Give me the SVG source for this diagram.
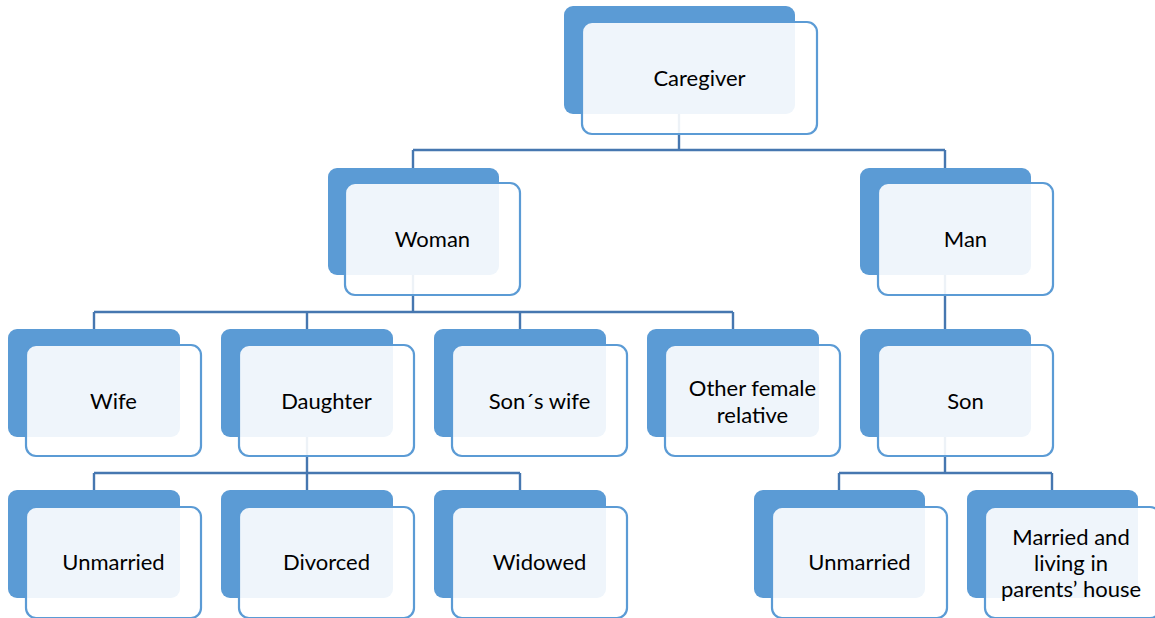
<svg xmlns="http://www.w3.org/2000/svg" width="1155" height="618" viewBox="0 0 1155 618">
<style>
.bk{fill:#5B9BD5}
.fr{fill:#ffffff;fill-opacity:0.9;stroke:#5B9BD5;stroke-width:2.2}
.t{font-family:Lato,"Liberation Sans",sans-serif;font-size:22px;fill:#000;text-anchor:middle;dominant-baseline:central}
.c{fill:none;stroke:#4677B0;stroke-width:2.4}
</style>
<rect width="1155" height="618" fill="#fff"/>
<g id="connectors">
<path class="c" d="M679 114V150M413 150H945M413 150V168M945 150V168"/>
<path class="c" d="M413 275V312M94 312H733M94 312V329M307 312V329M520 312V329M733 312V329"/>
<path class="c" d="M945 275V329"/>
<path class="c" d="M307 437V473M94 473H520M94 473V490M307 473V490M520 473V490"/>
<path class="c" d="M945 437V473M839 473H1052M839 473V490M1052 473V490"/>
</g>
<g id="caregiver"><rect class="bk" x="564" y="6" width="231" height="108" rx="9"/><rect class="fr" x="582" y="22" width="235" height="112" rx="10"/><text class="t" x="699.5" y="77.5">Caregiver</text></g>
<g id="woman"><rect class="bk" x="328" y="168" width="171" height="107" rx="9"/><rect class="fr" x="345" y="183" width="175" height="112" rx="10"/><text class="t" x="432.5" y="238.5">Woman</text></g>
<g id="man"><rect class="bk" x="860" y="168" width="171" height="107" rx="9"/><rect class="fr" x="878" y="183" width="175" height="112" rx="10"/><text class="t" x="965.5" y="238.5">Man</text></g>
<g id="wife"><rect class="bk" x="8" y="329" width="172" height="108" rx="9"/><rect class="fr" x="26" y="345" width="175" height="111" rx="10"/><text class="t" x="113.5" y="400.5">Wife</text></g>
<g id="daughter"><rect class="bk" x="221" y="329" width="172" height="108" rx="9"/><rect class="fr" x="239" y="345" width="175" height="111" rx="10"/><text class="t" x="326.5" y="400.5">Daughter</text></g>
<g id="sons-wife"><rect class="bk" x="434" y="329" width="172" height="108" rx="9"/><rect class="fr" x="452" y="345" width="175" height="111" rx="10"/><text class="t" x="539.5" y="400.5">Son´s wife</text></g>
<g id="other-female"><rect class="bk" x="647" y="329" width="172" height="108" rx="9"/><rect class="fr" x="665" y="345" width="175" height="111" rx="10"/><text class="t" x="752.5" y="387">Other female</text><text class="t" x="752.5" y="414">relative</text></g>
<g id="son"><rect class="bk" x="860" y="329" width="171" height="108" rx="9"/><rect class="fr" x="878" y="345" width="175" height="111" rx="10"/><text class="t" x="965.5" y="400.5">Son</text></g>
<g id="unmarried-d"><rect class="bk" x="8" y="490" width="172" height="108" rx="9"/><rect class="fr" x="26" y="507" width="175" height="111" rx="10"/><text class="t" x="113.5" y="561.5">Unmarried</text></g>
<g id="divorced"><rect class="bk" x="221" y="490" width="172" height="108" rx="9"/><rect class="fr" x="239" y="507" width="175" height="111" rx="10"/><text class="t" x="326.5" y="561.5">Divorced</text></g>
<g id="widowed"><rect class="bk" x="434" y="490" width="172" height="108" rx="9"/><rect class="fr" x="452" y="507" width="175" height="111" rx="10"/><text class="t" x="539.5" y="561.5">Widowed</text></g>
<g id="unmarried-s"><rect class="bk" x="754" y="490" width="171" height="108" rx="9"/><rect class="fr" x="772" y="507" width="175" height="111" rx="10"/><text class="t" x="859.5" y="561.5">Unmarried</text></g>
<g id="married"><rect class="bk" x="967" y="490" width="171" height="108" rx="9"/><rect class="fr" x="985" y="507" width="175" height="111" rx="10"/><text class="t" x="1071" y="536">Married and</text><text class="t" x="1071" y="562">living in</text><text class="t" x="1071" y="588">parents’ house</text></g>
</svg>
